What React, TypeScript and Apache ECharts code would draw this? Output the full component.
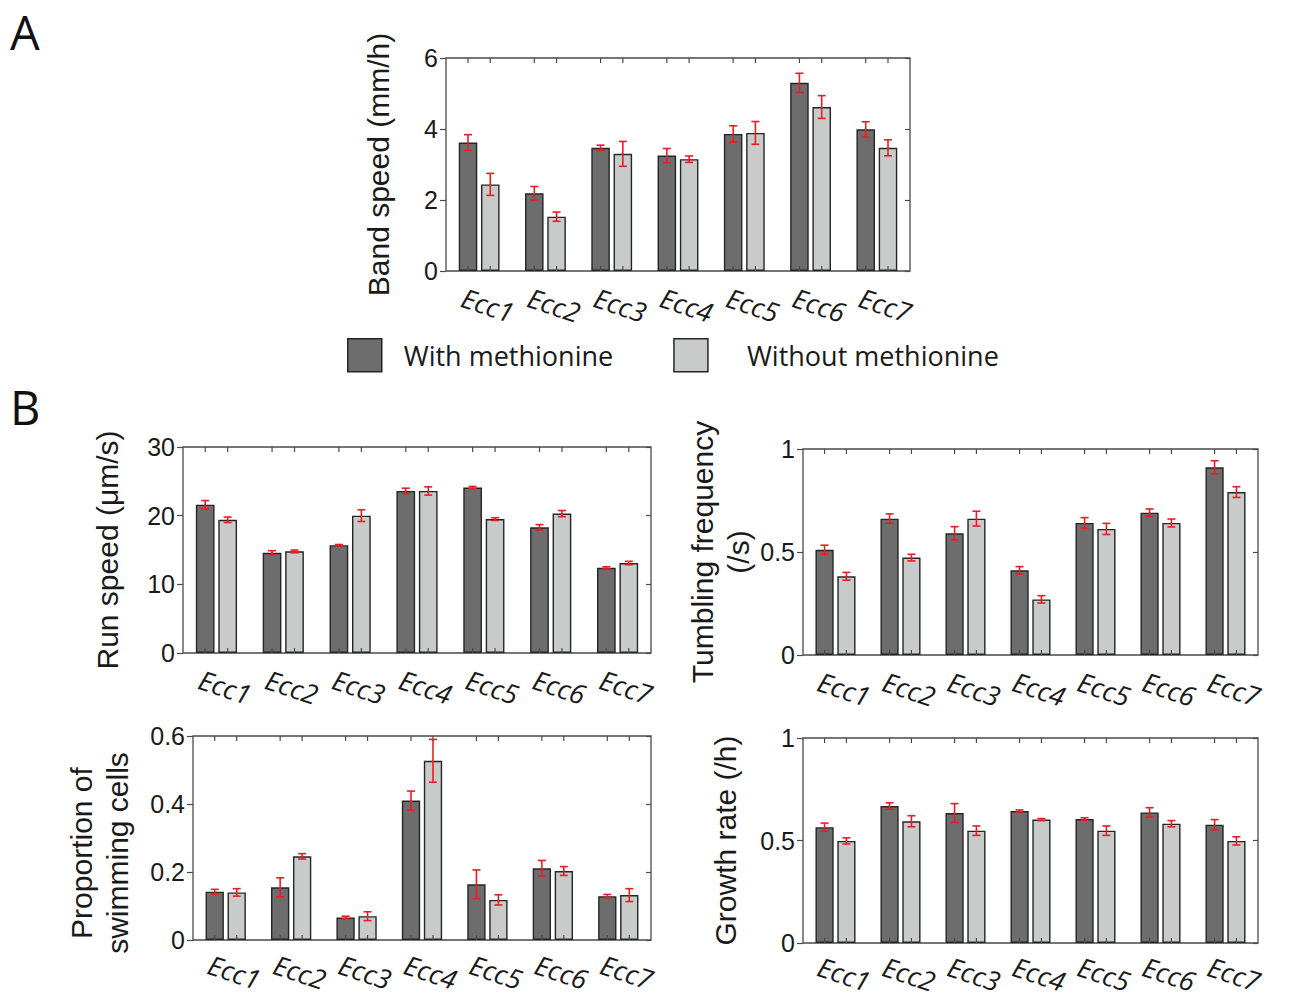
import React, { useEffect, useRef } from "react";
import * as echarts from "echarts";

// ---------------- data ----------------
const categories = ["Ecc1", "Ecc2", "Ecc3", "Ecc4", "Ecc5", "Ecc6", "Ecc7"];
const seriesNames = ["With methionine", "Without methionine"];

// A: Band speed (mm/h)
const bandSpeedWith = [3.62, 2.19, 3.47, 3.25, 3.86, 5.3, 3.99];
const bandSpeedWithErr = [0.22, 0.19, 0.075, 0.2, 0.23, 0.27, 0.215];
const bandSpeedWithout = [2.44, 1.53, 3.3, 3.15, 3.89, 4.62, 3.47];
const bandSpeedWithoutErr = [0.31, 0.13, 0.35, 0.09, 0.32, 0.32, 0.225];

// B1: Run speed (µm/s)
const runSpeedWith = [21.6, 14.6, 15.7, 23.6, 24.1, 18.3, 12.4];
const runSpeedWithErr = [0.6, 0.3, 0.1, 0.4, 0.15, 0.4, 0.15];
const runSpeedWithout = [19.4, 14.8, 20.0, 23.6, 19.5, 20.3, 13.1];
const runSpeedWithoutErr = [0.4, 0.2, 0.85, 0.6, 0.2, 0.45, 0.25];

// B2: Tumbling frequency (/s)
const tumbleWith = [0.511, 0.662, 0.591, 0.411, 0.641, 0.691, 0.911];
const tumbleWithErr = [0.022, 0.023, 0.032, 0.018, 0.026, 0.018, 0.032];
const tumbleWithout = [0.382, 0.473, 0.662, 0.27, 0.612, 0.641, 0.791];
const tumbleWithoutErr = [0.019, 0.016, 0.036, 0.018, 0.027, 0.019, 0.026];

// B3: Proportion of swimming cells
const swimWith = [0.142, 0.155, 0.066, 0.41, 0.164, 0.211, 0.129];
const swimWithErr = [0.007, 0.028, 0.004, 0.028, 0.042, 0.023, 0.005];
const swimWithout = [0.14, 0.246, 0.07, 0.527, 0.118, 0.203, 0.132];
const swimWithoutErr = [0.011, 0.008, 0.013, 0.063, 0.015, 0.013, 0.019];

// B4: Growth rate (/h)
const growthWith = [0.565, 0.668, 0.634, 0.644, 0.605, 0.637, 0.577];
const growthWithErr = [0.02, 0.016, 0.046, 0.005, 0.006, 0.023, 0.025];
const growthWithout = [0.498, 0.594, 0.548, 0.602, 0.548, 0.582, 0.498];
const growthWithoutErr = [0.015, 0.027, 0.023, 0.005, 0.023, 0.015, 0.02];

// axis ranges
const bandSpeedAxis = { min: 0, max: 6, interval: 2 };
const runSpeedAxis = { min: 0, max: 30, interval: 10 };
const tumbleAxis = { min: 0, max: 1, interval: 0.5 };
const swimAxis = { min: 0, max: 0.6, interval: 0.2 };
const growthAxis = { min: 0, max: 1, interval: 0.5 };

// ---------------- styling / layout ----------------
const DARK = "#6d6d6d";
const LIGHT = "#c9cbca";
const EDGE = "#262626";
const FRAME = "#4a4a4a";
const RED = "#ec1c24";
const BAR_W = 0.28; // fraction of band
const BAR_GAP = 0.2; // fraction of bar width
const BAR_OFF = 0.5 * BAR_W * (1 + BAR_GAP); // centre offset in band units

const panels = [
  {
    grid: { left: 446, top: 58, width: 464, height: 213 },
    axis: bandSpeedAxis,
    name: "Band speed (mm/h)",
    nameGap: 50,
    namePad: [0, 0, 0, 0],
    labelMargin: 31,
    w: bandSpeedWith, we: bandSpeedWithErr, wo: bandSpeedWithout, woe: bandSpeedWithoutErr,
  },
  {
    grid: { left: 183, top: 447, width: 468, height: 206 },
    axis: runSpeedAxis,
    name: "Run speed (μm/s)",
    nameGap: 58,
    namePad: [0, 0, 0, 0],
    labelMargin: 31,
    w: runSpeedWith, we: runSpeedWithErr, wo: runSpeedWithout, woe: runSpeedWithoutErr,
  },
  {
    grid: { left: 803, top: 449, width: 455, height: 206 },
    axis: tumbleAxis,
    name: "Tumbling frequency\n(/s)",
    nameGap: 46,
    namePad: [0, 0, 0, 0],
    labelMargin: 31,
    w: tumbleWith, we: tumbleWithErr, wo: tumbleWithout, woe: tumbleWithoutErr,
  },
  {
    grid: { left: 193, top: 736, width: 458, height: 204 },
    axis: swimAxis,
    name: "Proportion of\nswimming cells",
    nameGap: 58,
    namePad: [0, 30, 0, 0],
    labelMargin: 29,
    w: swimWith, we: swimWithErr, wo: swimWithout, woe: swimWithoutErr,
  },
  {
    grid: { left: 803, top: 738, width: 455, height: 205 },
    axis: growthAxis,
    name: "Growth rate (/h)",
    nameGap: 60,
    namePad: [0, 0, 0, 0],
    labelMargin: 28,
    w: growthWith, we: growthWithErr, wo: growthWithout, woe: growthWithoutErr,
  },
];

function buildOption() {
  const grid: any[] = [];
  const xAxis: any[] = [];
  const yAxis: any[] = [];
  const series: any[] = [];

  panels.forEach((p, i) => {
    grid.push({
      ...p.grid,
      show: true,
      borderColor: FRAME,
      borderWidth: 1.3,
      backgroundColor: "transparent",
      containLabel: false,
    });
    xAxis.push({
      type: "category",
      gridIndex: i,
      data: categories,
      boundaryGap: true,
      axisLine: { show: false },
      axisTick: { show: false },
      axisLabel: {
        interval: 0,
        rotate: -18,
        align: "center",
        verticalAlign: "middle",
        margin: p.labelMargin,
        padding: [0, 0, 0, 18],
        fontFamily: "Open Sans",
        fontStyle: "italic",
        fontSize: 27,
        color: "#1a1a1a",
      },
    });
    yAxis.push({
      type: "value",
      gridIndex: i,
      position: "left",
      min: p.axis.min,
      max: p.axis.max,
      interval: p.axis.interval,
      name: p.name,
      nameLocation: "middle",
      nameGap: p.nameGap,
      nameRotate: 90,
      nameTextStyle: {
        fontFamily: "Liberation Sans",
        fontSize: 30,
        lineHeight: 36,
        color: "#1a1a1a",
        padding: p.namePad,
      },
      axisLine: { show: false },
      axisTick: { show: true, inside: false, length: 6, lineStyle: { color: FRAME, width: 1.2 } },
      splitLine: { show: false },
      axisLabel: {
        margin: 8,
        fontFamily: "Liberation Sans",
        fontSize: 25,
        color: "#1a1a1a",
      },
    });
    yAxis.push({
      type: "value",
      gridIndex: i,
      position: "right",
      min: p.axis.min,
      max: p.axis.max,
      interval: p.axis.interval,
      axisLine: { show: false },
      axisTick: { show: true, inside: true, length: 5, lineStyle: { color: FRAME, width: 1.2 } },
      splitLine: { show: false },
      axisLabel: { show: false },
    });

    const barCommon = {
      type: "bar",
      xAxisIndex: i,
      yAxisIndex: 2 * i,
      barWidth: BAR_W * 100 + "%",
      barGap: BAR_GAP * 100 + "%",
    };
    series.push({
      ...barCommon,
      name: seriesNames[0],
      data: p.w,
      itemStyle: { color: DARK, borderColor: EDGE, borderWidth: 1.4 },
    });
    series.push({
      ...barCommon,
      name: seriesNames[1],
      data: p.wo,
      itemStyle: { color: LIGHT, borderColor: EDGE, borderWidth: 1.4 },
    });

    const errData: any[] = [];
    categories.forEach((_, j) => {
      errData.push([j, p.w[j], p.we[j], 0]);
      errData.push([j, p.wo[j], p.woe[j], 1]);
    });
    series.push({
      type: "custom",
      name: "err" + i,
      xAxisIndex: i,
      yAxisIndex: 2 * i,
      z: 5,
      data: errData,
      encode: { x: 0, y: 1 },
      renderItem: (params: any, api: any) => {
        const idx = api.value(0);
        const mean = api.value(1);
        const err = api.value(2);
        const s = api.value(3);
        const band = api.size([1, 0])[0];
        const x = api.coord([idx, mean])[0] + (s === 0 ? -1 : 1) * BAR_OFF * band;
        const yTop = api.coord([idx, mean + err])[1];
        const yBot = api.coord([idx, mean - err])[1];
        const cap = 4;
        const style = { stroke: RED, lineWidth: 1.6 };
        return {
          type: "group",
          children: [
            { type: "line", shape: { x1: x, y1: yTop, x2: x, y2: yBot }, style },
            { type: "line", shape: { x1: x - cap, y1: yTop, x2: x + cap, y2: yTop }, style },
            { type: "line", shape: { x1: x - cap, y1: yBot, x2: x + cap, y2: yBot }, style },
          ],
        };
      },
    });

    series.push({
      type: "custom",
      name: "ticks" + i,
      xAxisIndex: i,
      yAxisIndex: 2 * i,
      z: 4,
      data: categories.map((_, j) => [j, p.axis.min]),
      encode: { x: 0, y: 1 },
      renderItem: (params: any, api: any) => {
        const idx = api.value(0);
        const band = api.size([1, 0])[0];
        const cx = api.coord([idx, p.axis.min])[0];
        const cs = params.coordSys;
        const len = 5;
        const style = { stroke: FRAME, lineWidth: 1.2 };
        const children: any[] = [];
        [-1, 1].forEach((sgn) => {
          const x = cx + sgn * BAR_OFF * band;
          children.push({ type: "line", shape: { x1: x, y1: cs.y, x2: x, y2: cs.y + len }, style });
          children.push({
            type: "line",
            shape: { x1: x, y1: cs.y + cs.height, x2: x, y2: cs.y + cs.height - len },
            style,
          });
        });
        return { type: "group", children };
      },
    });
  });

  const legendText = { fontFamily: "Open Sans", fontSize: 27, color: "#1a1a1a" };

  return {
    animation: false,
    backgroundColor: "#ffffff",
    grid,
    xAxis,
    yAxis,
    series,
    legend: {
      data: [
        { name: seriesNames[0], textStyle: { ...legendText, padding: [0, 0, 0, 17] } },
        { name: seriesNames[1], textStyle: { ...legendText, padding: [0, 0, 0, 34] } },
      ],
      left: 347,
      top: 338,
      padding: 0,
      itemWidth: 34,
      itemHeight: 33,
      itemGap: 60,
      icon: "rect",
      selectedMode: false,
      itemStyle: { borderColor: EDGE, borderWidth: 1.5 },
      textStyle: legendText,
    },
    graphic: [
      {
        type: "text",
        left: 10,
        top: 8,
        style: { text: "A", fontFamily: "Open Sans", fontSize: 47, fill: "#111" },
      },
      {
        type: "text",
        left: 10,
        top: 383,
        style: { text: "B", fontFamily: "Open Sans", fontSize: 47, fill: "#111" },
      },
    ],
  };
}

export default function App() {
  const ref = useRef<HTMLDivElement>(null);
  useEffect(() => {
    if (!ref.current) return;
    const chart = echarts.init(ref.current, null, { renderer: "svg" });
    chart.setOption(buildOption() as any);
    return () => chart.dispose();
  }, []);
  return (
    <div
      ref={ref}
      style={{ position: "absolute", left: 0, top: 0, width: 1298, height: 999, background: "#fff" }}
    />
  );
}
